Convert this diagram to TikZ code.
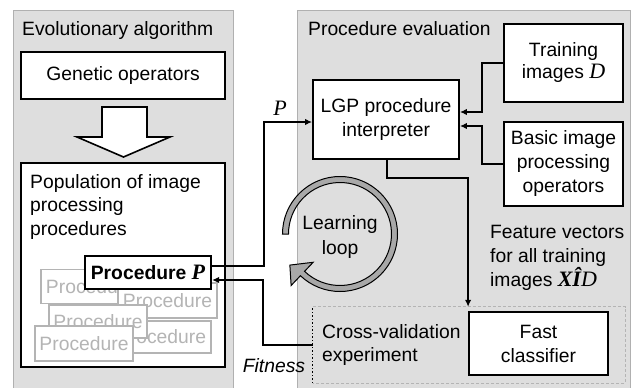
\documentclass[tikz,border=0pt]{standalone}
\usepackage{fontspec}
\setmainfont{Liberation Sans}
\newfontfamily\seriffont{Liberation Serif}
\usetikzlibrary{arrows.meta}
\definecolor{panelfill}{HTML}{DEDEDE}
\definecolor{panelline}{HTML}{B0B0B0}
\definecolor{ghost}{HTML}{B4B4B4}
\definecolor{loopfill}{HTML}{A8A8A8}
\newcommand{\mvar}[1]{{\seriffont\fontsize{22}{24}\selectfont\itshape #1}}
\begin{document}
\begin{tikzpicture}[x=1pt,y=-1pt,
  every node/.style={font=\fontsize{19.3}{24}\selectfont},
  panel/.style={draw=panelline, fill=panelfill, line width=1.2pt, inner sep=0pt, anchor=north west},
  box/.style={draw=black, fill=white, line width=1.8pt, align=center, inner sep=0pt},
  ghostbox/.style={draw=ghost, fill=white, line width=1.4pt, text=ghost, inner sep=0pt, minimum width=99pt, minimum height=34pt},
  conn/.style={line width=1.4pt, -{Latex[length=7pt,width=6.5pt]}},
  lbl/.style={inner sep=0pt, align=left}]
\useasboundingbox (0,0) rectangle (635,388);
\fill[white] (0,0) rectangle (635,388);
% panels
\node[panel, minimum width=220pt, minimum height=390pt] (leftpanel) at (13,10) {};
\node[panel, minimum width=333pt, minimum height=390pt] (rightpanel) at (297,10) {};
\node[lbl, anchor=base west] (lefttitle) at (22,35) {Evolutionary algorithm};
\node[lbl, anchor=base west] (righttitle) at (308,35) {Procedure evaluation};
% left side
\node[box, minimum width=204pt, minimum height=47pt] (genop) at (123,75.5) {Genetic operators};
\draw[line width=1.6pt, fill=white] (102,107) -- (147,107) -- (147,137) -- (170,137) -- (123.5,157) -- (77,137) -- (102,137) -- cycle;
\node[box, minimum width=204pt, minimum height=204pt] (pop) at (123,265) {};
\node[lbl, anchor=north west, font=\fontsize{19.3}{23.5}\selectfont] (poplabel) at (30,174) {Population of image\\processing\\procedures};
\node[ghostbox] (gA) at (90.5,286.5) {Procedure};
\node[ghostbox, minimum height=35pt] (gB) at (167.5,300.5) {Procedure};
\node[ghostbox, minimum height=32pt] (gD) at (161.5,337) {Procedure};
\node[ghostbox, minimum width=98pt, minimum height=33pt] (gC) at (98,321.5) {Procedure};
\node[ghostbox, minimum width=98pt, minimum height=35pt] (gE) at (84,343.5) {Procedure};
\node[box, line width=2.2pt, minimum width=126pt, minimum height=33pt] (procP) at (148,272.5) {\bfseries Procedure \mvar{P}};
% right side
\node[box, minimum width=146pt, minimum height=79pt] (lgp) at (386,119.5) {LGP procedure\\interpreter};
\node[box, minimum width=119pt, minimum height=78pt, font=\fontsize{19.3}{22}\selectfont] (train) at (563.5,63) {Training\\images \mvar{D}};
\node[box, minimum width=119pt, minimum height=84pt] (basic) at (563.5,164) {Basic image\\processing\\operators};
\node[inner sep=0pt, minimum width=312pt, minimum height=76pt] (cv) at (469,345) {};
\draw[ghost, line width=0.9pt, dash pattern=on 3pt off 2pt] (cv.north west) -- (cv.north east) -- (cv.south east) -- (cv.south west);
\draw[line width=1.2pt, dash pattern=on 1.5pt off 2pt] (cv.south west) -- (cv.north west);
\node[lbl, anchor=west, font=\fontsize{19.3}{23}\selectfont] (cvlabel) at (322,345) {Cross-validation\\experiment};
\node[box, minimum width=139pt, minimum height=63pt] (fast) at (538.5,343.5) {Fast\\classifier};
\node[lbl, anchor=north west] (feat) at (490,225) {Feature vectors\\for all training\\images {\seriffont\fontsize{22}{24}\selectfont\bfseries\itshape X\^I}\mvar{D}};
% learning loop
\begin{scope}[shift={(340,234)}]
\filldraw[fill=loopfill, draw=black, line width=1pt]
  (180:57.5) arc[start angle=180, end angle=493.5, radius=57.5]
  -- (493.5:71) -- (148.2:59) -- (493.5:39) -- (493.5:51.5)
  arc[start angle=493.5, end angle=180, radius=51.5] -- cycle;
\end{scope}
\node[align=center, inner sep=0pt, font=\fontsize{19.3}{25}\selectfont] (looplabel) at (340,237) {Learning\\loop};
% connectors
\draw[conn] ([yshift=6.5pt]procP.east) -- ++(52,0) |- ([yshift=-2.5pt]lgp.west);
\node[inner sep=0pt] (plabel) at (280,108) {\mvar{P}};
\draw[conn] (cv.west) -- ++(-50,0) |- ([yshift=-7.5pt]procP.east);
\node[inner sep=0pt, font=\fontsize{19.3}{24}\selectfont\itshape] (fitness) at (274,366) {Fitness};
\draw[conn] (train.west) -- ++(-21,0) |- ([yshift=7.5pt]lgp.east);
\draw[conn] (basic.west) -- ++(-21,0) |- ([yshift=-6.5pt]lgp.east);
\draw[conn] ([xshift=1pt]lgp.south) -- ++(0,18) -| (fast.west |- cv.north);
\end{tikzpicture}
\end{document}
